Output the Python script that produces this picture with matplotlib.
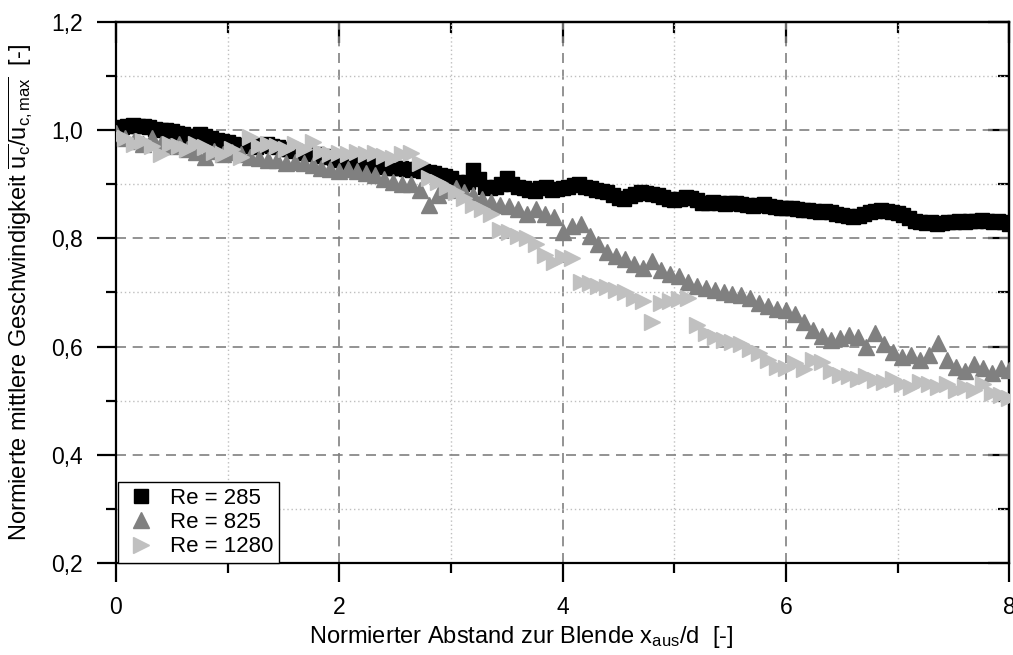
import numpy as np
import matplotlib
matplotlib.use('Agg')
import matplotlib.pyplot as plt
from matplotlib.ticker import MultipleLocator, FuncFormatter

plt.rcParams['font.family'] = ['Liberation Sans', 'DejaVu Sans']
plt.rcParams['mathtext.fontset'] = 'custom'
plt.rcParams['mathtext.rm'] = 'Liberation Sans'
plt.rcParams['mathtext.it'] = 'Liberation Sans:italic'

# Re = 285, step 0.05 in x/d
x_285 = np.round(np.arange(0, 8.001, 0.05), 2)
u_285 = [
    1.003, 1.005, 1.008, 1.01, 1.008, 1.007, 1.005, 1.003, 1.0, 1.0,
    0.998, 0.995, 0.993, 0.99, 0.99, 0.992, 0.99, 0.985, 0.982, 0.98,
    0.978, 0.975, 0.972, 0.972, 0.97, 0.968, 0.972, 0.975, 0.97, 0.968,
    0.965, 0.966, 0.962, 0.96, 0.958, 0.955, 0.955, 0.953, 0.95, 0.948,
    0.945, 0.942, 0.94, 0.938, 0.938, 0.935, 0.935, 0.933, 0.932, 0.93,
    0.93, 0.93, 0.928, 0.926, 0.928, 0.925, 0.922, 0.92, 0.918, 0.915,
    0.912, 0.905, 0.9, 0.905, 0.926, 0.91, 0.895, 0.893, 0.895, 0.9,
    0.912, 0.9, 0.895, 0.893, 0.89, 0.888, 0.893, 0.895, 0.89, 0.892,
    0.893, 0.895, 0.898, 0.9, 0.895, 0.893, 0.89, 0.888, 0.885, 0.88,
    0.875, 0.873, 0.878, 0.882, 0.885, 0.884, 0.882, 0.88, 0.876, 0.873,
    0.87, 0.872, 0.876, 0.874, 0.87, 0.866, 0.866, 0.868, 0.866, 0.864,
    0.865, 0.866, 0.864, 0.862, 0.86, 0.862, 0.863, 0.86, 0.858, 0.857,
    0.856, 0.857, 0.855, 0.853, 0.852, 0.85, 0.849, 0.85, 0.848, 0.845,
    0.843, 0.842, 0.84, 0.842, 0.845, 0.848, 0.85, 0.852, 0.85, 0.848,
    0.846, 0.843, 0.838, 0.832, 0.83, 0.828, 0.83, 0.826, 0.828, 0.83,
    0.83, 0.832, 0.83, 0.832, 0.833, 0.834, 0.832, 0.83, 0.832, 0.83,
    0.826,
]

# Re = 825 and Re = 1280, step 0.08 in x/d
x_tri = np.round(np.arange(0, 8.001, 0.08), 2)
u_825 = [
    0.995, 0.985, 0.98, 0.975, 0.985, 0.975, 0.97, 0.975, 0.965, 0.96,
    0.95, 0.962, 0.955, 0.96, 0.955, 0.95, 0.948, 0.945, 0.945, 0.94,
    0.942, 0.94, 0.935, 0.93, 0.928, 0.925, 0.928, 0.925, 0.92, 0.918,
    0.91, 0.905, 0.9, 0.9, 0.89, 0.862, 0.88, 0.89, 0.893, 0.885,
    0.88, 0.872, 0.868, 0.862, 0.86, 0.855, 0.845, 0.855, 0.845, 0.84,
    0.812, 0.822, 0.826, 0.805, 0.79, 0.775, 0.768, 0.762, 0.752, 0.745,
    0.758, 0.742, 0.735, 0.73, 0.72, 0.712, 0.708, 0.705, 0.7, 0.698,
    0.695, 0.69, 0.68, 0.675, 0.67, 0.668, 0.66, 0.645, 0.63, 0.62,
    0.612, 0.615, 0.622, 0.618, 0.6, 0.625, 0.605, 0.59, 0.58, 0.585,
    0.575, 0.585, 0.607, 0.575, 0.562, 0.555, 0.568, 0.56, 0.552, 0.56,
    0.557,
]
u_1280 = [
    0.99, 0.985, 0.975, 0.98, 0.97, 0.955, 0.975, 0.97, 0.965, 0.975,
    0.968, 0.96, 0.955, 0.965, 0.95, 0.987, 0.97, 0.975, 0.97, 0.965,
    0.975, 0.965, 0.978, 0.96, 0.955, 0.958, 0.955, 0.96, 0.955, 0.958,
    0.952, 0.948, 0.955, 0.958, 0.94, 0.912, 0.905, 0.895, 0.885, 0.875,
    0.862, 0.855, 0.845, 0.815, 0.812, 0.805, 0.8, 0.79, 0.77, 0.757,
    0.765, 0.764, 0.72, 0.718, 0.712, 0.71, 0.705, 0.7, 0.69, 0.685,
    0.645, 0.68, 0.685, 0.688, 0.69, 0.64, 0.625, 0.618, 0.612, 0.608,
    0.605, 0.595, 0.588, 0.575, 0.562, 0.56, 0.57, 0.558, 0.575, 0.572,
    0.555, 0.548, 0.545, 0.54, 0.545, 0.538, 0.535, 0.54, 0.53, 0.525,
    0.535, 0.53, 0.525, 0.53, 0.52, 0.525, 0.52, 0.53, 0.515, 0.51,
    0.505,
]

def comma(v, pos):
    return f"{v:.1f}".replace('.', ',')

fig = plt.figure(figsize=(10.13, 6.55), dpi=100)
ax = fig.add_axes([0.1145, 0.1405, 0.882, 0.826])

ax.plot(x_285, u_285, ls='none', marker='s', ms=9.5, color='black', mec='black', label='Re = 285', zorder=3)
ax.plot(x_tri, u_825, ls='none', marker='^', ms=11, color='#808080', mec='#808080', label='Re = 825', zorder=3)
ax.plot(x_tri, u_1280, ls='none', marker='>', ms=11, color='#c0c0c0', mec='#c0c0c0', label='Re = 1280', zorder=3)

ax.set_xlim(0, 8)
ax.set_ylim(0.2, 1.2)
ax.xaxis.set_major_locator(MultipleLocator(2))
ax.xaxis.set_minor_locator(MultipleLocator(1))
ax.yaxis.set_major_locator(MultipleLocator(0.2))
ax.yaxis.set_minor_locator(MultipleLocator(0.1))
ax.yaxis.set_major_formatter(FuncFormatter(comma))

ax.grid(which='major', color='#808080', ls=(0, (6, 4)), lw=1.2)
ax.grid(which='minor', color='#bfbfbf', ls=(0, (1, 2)), lw=1.0)
ax.set_axisbelow(True)

for s in ax.spines.values():
    s.set_linewidth(1.6)

ax.tick_params(which='major', direction='out', length=14, width=1.6, labelsize=16.5, pad=10)
ax.tick_params(which='minor', direction='out', length=7, width=1.6)

# inward ticks on top and right
top = ax.secondary_xaxis('top')
top.xaxis.set_major_locator(MultipleLocator(2))
top.xaxis.set_minor_locator(MultipleLocator(1))
top.tick_params(which='major', direction='in', length=15, width=1.6, labeltop=False)
top.tick_params(which='minor', direction='in', length=8, width=1.6)
top.spines['top'].set_linewidth(1.6)
right = ax.secondary_yaxis('right')
right.yaxis.set_major_locator(MultipleLocator(0.2))
right.yaxis.set_minor_locator(MultipleLocator(0.1))
right.tick_params(which='major', direction='in', length=15, width=1.6, labelright=False)
right.tick_params(which='minor', direction='in', length=8, width=1.6)
right.spines['right'].set_linewidth(1.6)

ax.set_xlabel(r'Normierter Abstand zur Blende x$_{\mathrm{aus}}$/d  [-]', fontsize=17)
ax.xaxis.set_label_coords(0.4535, -0.112)
ax.set_ylabel(r'Normierte mittlere Geschwindigkeit $\overline{\mathrm{u}_{\mathrm{c}}}/\overline{\mathrm{u}_{\mathrm{c,max}}}$  [-]',
              fontsize=17, labelpad=12)

leg = ax.legend(loc='lower left', bbox_to_anchor=(0.002, 0.0), borderaxespad=0, fontsize=16,
                fancybox=False, edgecolor='black', framealpha=1, labelspacing=0.15,
                handletextpad=0.5, borderpad=0.25, handlelength=1.6)
leg.get_frame().set_linewidth(1.0)

fig.savefig('out.png', dpi=100)
